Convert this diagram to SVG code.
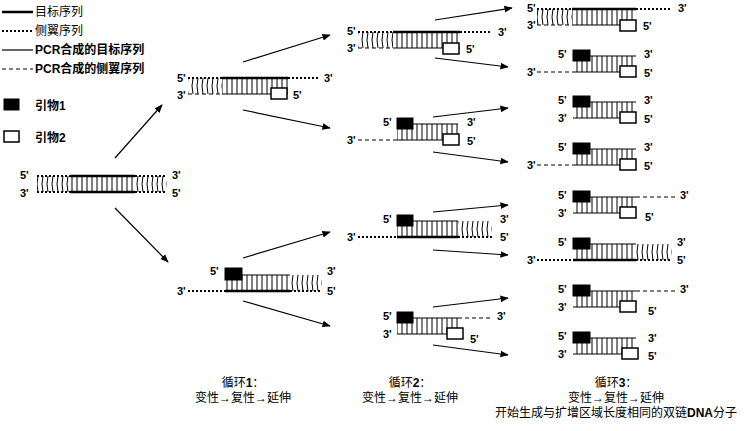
<svg xmlns="http://www.w3.org/2000/svg" width="750" height="431" viewBox="0 0 750 431">
<defs>
<pattern id="rg" patternUnits="userSpaceOnUse" width="5" height="16"><line x1="2" y1="0" x2="2" y2="16" stroke="#000" stroke-width="1"/></pattern>
<pattern id="cu" patternUnits="userSpaceOnUse" width="5" height="16"><path d="M3 0 Q1 8 3 16" stroke="#000" stroke-width="1" fill="none"/></pattern>
<marker id="ah" viewBox="0 0 10 10" refX="9" refY="5" markerWidth="7" markerHeight="7" orient="auto"><path d="M0 1 L10 5 L0 9 z" fill="#000"/></marker>
</defs>
<style>
line{stroke:#000}
.thick{stroke-width:2.5}
.dot{stroke-width:2;stroke-dasharray:2 2}
.thin{stroke-width:1.2}
.dash{stroke-width:1;stroke-dasharray:4 3}
.p1{fill:#000;stroke:#000}
.p2{fill:#fff;stroke:#000;stroke-width:1.5}
.l{font-family:"Liberation Sans",Arial,sans-serif;font-weight:bold;font-size:11px}
.c{font-family:"Liberation Serif","Noto Sans CJK SC",serif;font-size:12px}
.lg{font-family:"Liberation Serif","Noto Sans CJK SC",serif;font-size:12px}
.lb{font-family:"Liberation Sans","Noto Sans CJK SC",sans-serif;font-weight:bold;font-size:12px}
.arr{stroke:#000;stroke-width:1.2;marker-end:url(#ah)}
</style>
<rect width="750" height="431" fill="#fff"/>
<g id="legend">
<line class="thick" x1="2" y1="12" x2="33" y2="12"/><text class="lg" x="35" y="16">目标序列</text>
<line class="dot" x1="2" y1="31" x2="33" y2="31"/><text class="lg" x="35" y="35">侧翼序列</text>
<line class="thin" x1="2" y1="50" x2="33" y2="50"/><text class="lb" x="35" y="54">PCR合成的目标序列</text>
<line class="dash" x1="2" y1="69" x2="33" y2="69"/><text class="lb" x="35" y="73">PCR合成的侧翼序列</text>
<rect class="p1" x="4" y="99" width="15" height="11"/><text class="lb" x="35" y="110">引物1</text>
<rect class="p2" x="4" y="131" width="15" height="11"/><text class="lb" x="35" y="142">引物2</text>
</g>
<g id="original" transform="translate(0,176)">
<rect x="37" y="0" width="33" height="16" fill="url(#cu)"/><rect x="70" y="0" width="65" height="16" fill="url(#rg)"/><rect x="135" y="0" width="32" height="16" fill="url(#cu)"/>
<line class="dot" x1="37" y1="0" x2="70" y2="0"/><line class="thick" x1="70" y1="0" x2="135" y2="0"/><line class="dot" x1="135" y1="0" x2="167" y2="0"/>
<line class="dot" x1="37" y1="16" x2="70" y2="16"/><line class="thick" x1="70" y1="16" x2="135" y2="16"/><line class="dot" x1="135" y1="16" x2="167" y2="16"/>
<text class="l" x="20" y="3">5'</text><text class="l" x="20" y="21">3'</text><text class="l" x="172" y="3">3'</text><text class="l" x="172" y="21">5'</text>
</g>
<g id="c1a" transform="translate(0,78)">
<rect x="188" y="0" width="34" height="16" fill="url(#cu)"/><rect x="222" y="0" width="66" height="16" fill="url(#rg)"/>
<line class="dot" x1="188" y1="0" x2="222" y2="0"/><line class="thick" x1="222" y1="0" x2="288" y2="0"/><line class="dot" x1="288" y1="0" x2="320" y2="0"/>
<line class="dash" x1="188" y1="16" x2="222" y2="16"/><line class="thin" x1="222" y1="16" x2="288" y2="16"/>
<rect class="p2" x="271" y="10" width="16" height="11"/>
<text class="l" x="177" y="4">5'</text><text class="l" x="177" y="21">3'</text><text class="l" x="324" y="4">3'</text><text class="l" x="293" y="21">5'</text>
</g>
<g id="c1b" transform="translate(0,275)">
<rect x="225" y="0" width="65" height="16" fill="url(#rg)"/><rect x="290" y="0" width="32" height="16" fill="url(#cu)"/>
<rect class="p1" x="225" y="-7" width="17" height="12"/>
<line class="thin" x1="242" y1="0" x2="290" y2="0"/>
<line class="dot" x1="188" y1="16" x2="225" y2="16"/><line class="thick" x1="225" y1="16" x2="290" y2="16"/><line class="dot" x1="290" y1="16" x2="322" y2="16"/>
<text class="l" x="210" y="0">5'</text><text class="l" x="177" y="20">3'</text><text class="l" x="327" y="0">3'</text><text class="l" x="327" y="20">5'</text>
</g>
<g id="c2a" transform="translate(0,32)">
<rect x="358" y="0" width="35" height="16" fill="url(#cu)"/><rect x="393" y="0" width="67" height="16" fill="url(#rg)"/>
<line class="dot" x1="358" y1="0" x2="393" y2="0"/><line class="thick" x1="393" y1="0" x2="460" y2="0"/><line class="dot" x1="460" y1="0" x2="492" y2="0"/>
<line class="dash" x1="358" y1="16" x2="393" y2="16"/><line class="thin" x1="393" y1="16" x2="460" y2="16"/>
<rect class="p2" x="443" y="11" width="16" height="11"/>
<text class="l" x="347" y="3">5'</text><text class="l" x="347" y="20">3'</text><text class="l" x="498" y="4">3'</text><text class="l" x="466" y="21">5'</text>
</g>
<g id="c2b" transform="translate(0,124)">
<rect x="397" y="0" width="61" height="16" fill="url(#rg)"/>
<rect class="p1" x="397" y="-6" width="16" height="11"/>
<line class="thin" x1="413" y1="0" x2="458" y2="0"/>
<line class="dash" x1="358" y1="16" x2="397" y2="16"/><line class="thin" x1="397" y1="16" x2="458" y2="16"/>
<rect class="p2" x="443" y="10" width="16" height="11"/>
<text class="l" x="383" y="2">5'</text><text class="l" x="347" y="20">3'</text><text class="l" x="467" y="2">3'</text><text class="l" x="467" y="21">5'</text>
</g>
<g id="c2c" transform="translate(0,221)">
<rect x="397" y="0" width="61" height="16" fill="url(#rg)"/><rect x="458" y="0" width="34" height="16" fill="url(#cu)"/>
<rect class="p1" x="397" y="-6" width="16" height="11"/>
<line class="thin" x1="413" y1="0" x2="458" y2="0"/>
<line class="dot" x1="358" y1="16" x2="397" y2="16"/><line class="thick" x1="397" y1="16" x2="458" y2="16"/><line class="dot" x1="458" y1="16" x2="492" y2="16"/>
<text class="l" x="383" y="2">5'</text><text class="l" x="347" y="20">3'</text><text class="l" x="500" y="2">3'</text><text class="l" x="500" y="20">5'</text>
</g>
<g id="c2d" transform="translate(0,318)">
<rect x="397" y="0" width="61" height="16" fill="url(#rg)"/>
<rect class="p1" x="397" y="-6" width="16" height="11"/>
<line class="thin" x1="413" y1="0" x2="458" y2="0"/><line class="dash" x1="458" y1="0" x2="492" y2="0"/>
<line class="thin" x1="397" y1="16" x2="458" y2="16"/>
<rect class="p2" x="447" y="10" width="16" height="11"/>
<text class="l" x="383" y="2">5'</text><text class="l" x="383" y="20">3'</text><text class="l" x="497" y="2">3'</text><text class="l" x="470" y="25">5'</text>
</g>
<g id="c3-1" transform="translate(0,9)">
<rect x="537" y="0" width="35" height="16" fill="url(#cu)"/><rect x="572" y="0" width="64" height="16" fill="url(#rg)"/>
<line class="dot" x1="537" y1="0" x2="572" y2="0"/><line class="thick" x1="572" y1="0" x2="636" y2="0"/><line class="dot" x1="636" y1="0" x2="672" y2="0"/>
<line class="dash" x1="537" y1="16" x2="572" y2="16"/><line class="thin" x1="572" y1="16" x2="636" y2="16"/>
<rect class="p2" x="620" y="11" width="16" height="11"/>
<text class="l" x="527" y="3">5'</text><text class="l" x="527" y="20">3'</text><text class="l" x="678" y="3">3'</text><text class="l" x="643" y="21">5'</text>
</g>
<g id="c3-2" transform="translate(0,56)">
<rect x="573" y="0" width="63" height="16" fill="url(#rg)"/>
<rect class="p1" x="573" y="-6" width="17" height="11"/>
<line class="thin" x1="590" y1="0" x2="636" y2="0"/>
<line class="dash" x1="537" y1="16" x2="573" y2="16"/><line class="thin" x1="573" y1="16" x2="636" y2="16"/>
<rect class="p2" x="620" y="10" width="16" height="11"/>
<text class="l" x="558" y="2">5'</text><text class="l" x="527" y="20">3'</text><text class="l" x="644" y="2">3'</text><text class="l" x="644" y="21">5'</text>
</g>
<g id="c3-3" transform="translate(0,102)">
<rect x="573" y="0" width="63" height="16" fill="url(#rg)"/>
<rect class="p1" x="573" y="-6" width="17" height="11"/>
<line class="thin" x1="590" y1="0" x2="636" y2="0"/>
<line class="thin" x1="573" y1="16" x2="636" y2="16"/>
<rect class="p2" x="620" y="10" width="16" height="11"/>
<text class="l" x="558" y="2">5'</text><text class="l" x="558" y="20">3'</text><text class="l" x="644" y="2">3'</text><text class="l" x="644" y="21">5'</text>
</g>
<g id="c3-4" transform="translate(0,149)">
<rect x="573" y="0" width="63" height="16" fill="url(#rg)"/>
<rect class="p1" x="573" y="-6" width="17" height="11"/>
<line class="thin" x1="590" y1="0" x2="636" y2="0"/>
<line class="dash" x1="537" y1="16" x2="573" y2="16"/><line class="thin" x1="573" y1="16" x2="636" y2="16"/>
<rect class="p2" x="620" y="10" width="16" height="11"/>
<text class="l" x="558" y="2">5'</text><text class="l" x="527" y="20">3'</text><text class="l" x="644" y="2">3'</text><text class="l" x="644" y="21">5'</text>
</g>
<g id="c3-5" transform="translate(0,197)">
<rect x="573" y="0" width="63" height="16" fill="url(#rg)"/>
<rect class="p1" x="573" y="-6" width="17" height="11"/>
<line class="thin" x1="590" y1="0" x2="636" y2="0"/><line class="dash" x1="636" y1="0" x2="675" y2="0"/>
<line class="thin" x1="573" y1="16" x2="636" y2="16"/>
<rect class="p2" x="620" y="10" width="16" height="11"/>
<text class="l" x="558" y="2">5'</text><text class="l" x="558" y="20">3'</text><text class="l" x="680" y="2">3'</text><text class="l" x="645" y="24">5'</text>
</g>
<g id="c3-6" transform="translate(0,244)">
<rect x="573" y="0" width="63" height="16" fill="url(#rg)"/><rect x="636" y="0" width="36" height="16" fill="url(#cu)"/>
<rect class="p1" x="573" y="-6" width="17" height="11"/>
<line class="thin" x1="590" y1="0" x2="636" y2="0"/>
<line class="dot" x1="537" y1="16" x2="573" y2="16"/><line class="thick" x1="573" y1="16" x2="636" y2="16"/><line class="dot" x1="636" y1="16" x2="672" y2="16"/>
<text class="l" x="558" y="2">5'</text><text class="l" x="527" y="20">3'</text><text class="l" x="677" y="2">3'</text><text class="l" x="677" y="20">5'</text>
</g>
<g id="c3-7" transform="translate(0,291)">
<rect x="573" y="0" width="63" height="16" fill="url(#rg)"/>
<rect class="p1" x="573" y="-6" width="17" height="11"/>
<line class="thin" x1="590" y1="0" x2="636" y2="0"/><line class="dash" x1="636" y1="0" x2="675" y2="0"/>
<line class="thin" x1="573" y1="16" x2="636" y2="16"/>
<rect class="p2" x="620" y="10" width="16" height="11"/>
<text class="l" x="558" y="2">5'</text><text class="l" x="558" y="20">3'</text><text class="l" x="680" y="2">3'</text><text class="l" x="648" y="24">5'</text>
</g>
<g id="c3-8" transform="translate(0,338)">
<rect x="573" y="0" width="63" height="16" fill="url(#rg)"/>
<rect class="p1" x="573" y="-6" width="17" height="11"/>
<line class="thin" x1="590" y1="0" x2="636" y2="0"/>
<line class="thin" x1="573" y1="16" x2="636" y2="16"/>
<rect class="p2" x="622" y="10" width="16" height="11"/>
<text class="l" x="558" y="2">5'</text><text class="l" x="558" y="20">3'</text><text class="l" x="648" y="4">3'</text><text class="l" x="648" y="22">5'</text>
</g>
<g id="connectors">
<line class="arr" x1="115" y1="158" x2="162" y2="105"/>
<line class="arr" x1="115" y1="208" x2="168" y2="262"/>
<line class="arr" x1="243" y1="62" x2="330" y2="35"/>
<line class="arr" x1="243" y1="110" x2="330" y2="128"/>
<line class="arr" x1="243" y1="258" x2="330" y2="232"/>
<line class="arr" x1="243" y1="301" x2="330" y2="326"/>
<line class="arr" x1="435" y1="20" x2="512" y2="8"/>
<line class="arr" x1="435" y1="58" x2="508" y2="67"/>
<line class="arr" x1="433" y1="117" x2="508" y2="108"/>
<line class="arr" x1="433" y1="152" x2="508" y2="162"/>
<line class="arr" x1="433" y1="212" x2="508" y2="205"/>
<line class="arr" x1="433" y1="250" x2="508" y2="255"/>
<line class="arr" x1="433" y1="307" x2="508" y2="298"/>
<line class="arr" x1="433" y1="345" x2="508" y2="355"/>
</g>
<g id="captions">
<text class="c" x="243" y="387" text-anchor="middle">循环<tspan font-weight="bold" font-family="Liberation Sans">1</tspan>：</text>
<text class="c" x="243" y="402" text-anchor="middle">变性→复性→延伸</text>
<text class="c" x="410" y="387" text-anchor="middle">循环<tspan font-weight="bold" font-family="Liberation Sans">2</tspan>：</text>
<text class="c" x="410" y="402" text-anchor="middle">变性→复性→延伸</text>
<text class="c" x="616" y="387" text-anchor="middle">循环<tspan font-weight="bold" font-family="Liberation Sans">3</tspan>：</text>
<text class="c" x="616" y="402" text-anchor="middle">变性→复性→延伸</text>
<text class="c" x="616" y="417" text-anchor="middle">开始生成与扩增区域长度相同的双链<tspan font-weight="bold" font-family="Liberation Sans">DNA</tspan>分子</text>
</g>
</svg>
